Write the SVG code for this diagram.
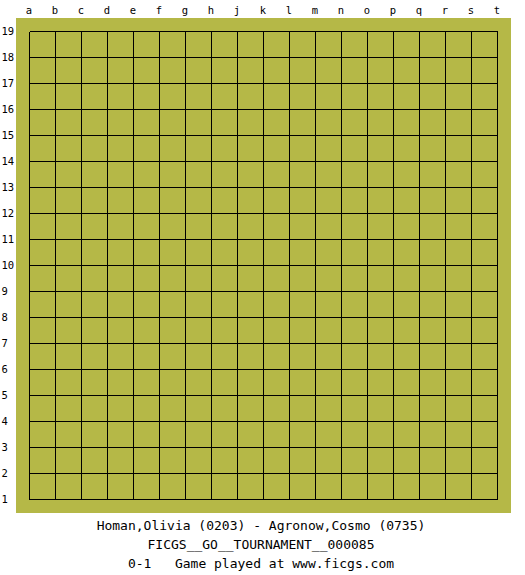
<svg xmlns="http://www.w3.org/2000/svg" width="525" height="575" viewBox="0 0 525 575">
<style>
.lbl{font-family:"DejaVu Sans Mono","Liberation Mono",monospace;font-size:10.5px;fill:#000}
.col{text-anchor:middle}
.info{font-family:"DejaVu Sans Mono","Liberation Mono",monospace;font-size:13px;fill:#000;text-anchor:middle}
.grid{stroke:#000;stroke-width:1;fill:none;shape-rendering:crispEdges}
</style>
<rect x="0" y="0" width="525" height="575" fill="#fff"/>
<rect x="16" y="18" width="495" height="495" fill="#b5b847"/>
<g id="grid">
<path class="grid" d="M29.5 31.5V499.5M55.5 31.5V499.5M81.5 31.5V499.5M107.5 31.5V499.5M133.5 31.5V499.5M159.5 31.5V499.5M185.5 31.5V499.5M211.5 31.5V499.5M237.5 31.5V499.5M263.5 31.5V499.5M289.5 31.5V499.5M315.5 31.5V499.5M341.5 31.5V499.5M367.5 31.5V499.5M393.5 31.5V499.5M419.5 31.5V499.5M445.5 31.5V499.5M471.5 31.5V499.5M497.5 31.5V499.5M29.5 31.5H497.5M29.5 57.5H497.5M29.5 83.5H497.5M29.5 109.5H497.5M29.5 135.5H497.5M29.5 161.5H497.5M29.5 187.5H497.5M29.5 213.5H497.5M29.5 239.5H497.5M29.5 265.5H497.5M29.5 291.5H497.5M29.5 317.5H497.5M29.5 343.5H497.5M29.5 369.5H497.5M29.5 395.5H497.5M29.5 421.5H497.5M29.5 447.5H497.5M29.5 473.5H497.5M29.5 499.5H497.5"/>
</g>
<g id="columns" class="lbl col">
<text x="29" y="14">a</text><text x="55" y="14">b</text><text x="81" y="14">c</text><text x="107" y="14">d</text><text x="133" y="14">e</text><text x="159" y="14">f</text><text x="185" y="14">g</text><text x="211" y="14">h</text><text x="237" y="14">j</text><text x="263" y="14">k</text><text x="289" y="14">l</text><text x="315" y="14">m</text><text x="341" y="14">n</text><text x="367" y="14">o</text><text x="393" y="14">p</text><text x="419" y="14">q</text><text x="445" y="14">r</text><text x="471" y="14">s</text><text x="497" y="14">t</text>
</g>
<g id="rows" class="lbl">
<text x="1.5" y="35">19</text><text x="1.5" y="61">18</text><text x="1.5" y="87">17</text><text x="1.5" y="113">16</text><text x="1.5" y="139">15</text><text x="1.5" y="165">14</text><text x="1.5" y="191">13</text><text x="1.5" y="217">12</text><text x="1.5" y="243">11</text><text x="1.5" y="269">10</text><text x="1.5" y="295">9</text><text x="1.5" y="321">8</text><text x="1.5" y="347">7</text><text x="1.5" y="373">6</text><text x="1.5" y="399">5</text><text x="1.5" y="425">4</text><text x="1.5" y="451">3</text><text x="1.5" y="477">2</text><text x="1.5" y="503">1</text>
</g>
<g id="info" class="info">
<text x="261" y="530">Homan,Olivia (0203) - Agronow,Cosmo (0735)</text>
<text x="261" y="549">FICGS__GO__TOURNAMENT__000085</text>
<text x="261" y="568" xml:space="preserve">0-1   Game played at www.ficgs.com</text>
</g>
</svg>
